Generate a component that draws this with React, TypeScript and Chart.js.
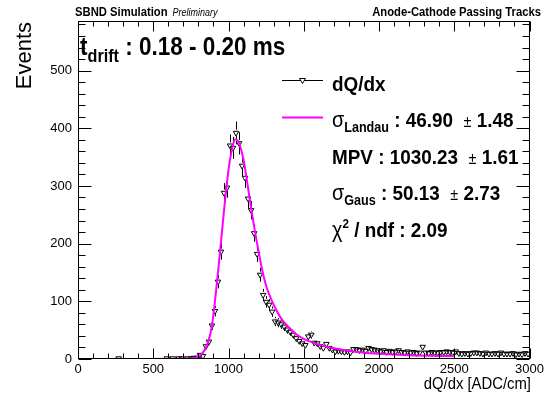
import React, { useEffect, useRef } from "react";
import { Chart, registerables } from "chart.js";

Chart.register(...registerables);

// ---- data -----------------------------------------------------------
const BIN_WIDTH = 20; // ADC/cm per histogram bin, first bin starts at 0
const X_MIN = 0;
const X_MAX = 3000;
const Y_MIN = 0;
const Y_MAX = 586;
const xTickValues = [0, 500, 1000, 1500, 2000, 2500, 3000];
const yTickValues = [0, 100, 200, 300, 400, 500];

// histogram counts per bin (null = empty bin, not drawn)
const counts: (number | null)[] = [
  // 0 - 260
  null, null, null, null, null, null, null, null, null, null, null, null, null,
  // 260 - 580
  1, null, null, null, null, null, null, null, null, null, null, null, null, null, null, null,
  // 580 - 800
  1, null, 1, null, 1, 1, null, 1, 1, 2, 2,
  // 800 - 1000
  7, 5, 22, 30, 58, 83, 134, 186, 288, 297,
  // 1000 - 1200
  370, 366, 392, 374, 335, 314, 278, 258, 218, 182,
  // 1200 - 1400
  146, 111, 99, 94, 82, 65, 63, 60, 56, 51,
  // 1400 - 1600
  47, 42, 36, 31, 27, 24, 39, 42, 28, 27,
  // 1600 - 1800
  22, 19, 26, 19, 16, 13, 14, 13, 12, 13,
  // 1800 - 2000
  11, 17, 17, 15, 16, 14, 19, 17, 16, 15,
  // 2000 - 2200
  13, 15, 12, 14, 12, 13, 15, 12, 11, 13,
  // 2200 - 2400
  11, 12, 10, 11, 21, 11, 10, 12, 11, 11,
  // 2400 - 2600
  12, 12, 13, 12, 11, 13, 10, 9, 10, 9,
  // 2600 - 2800
  10, 11, 11, 10, 9, 11, 9, 9, 10, 9,
  // 2800 - 3000
  11, 9, 9, 9, 10, 8, 9, 8, 10, 9,
];

// Landau (x) Gauss fit curve
const fitX = [400, 700, 780, 800, 830, 850, 870, 890, 910, 930, 950, 975, 1000, 1025, 1045, 1070, 1100, 1125, 1150, 1175, 1200, 1225, 1250, 1300, 1350, 1400, 1450, 1500, 1600, 1700, 1800, 1900, 2000, 2200, 2500];
const fitY = [0, 0.3, 2, 4, 11, 20, 34, 58, 100, 150, 203, 270, 328, 366, 381, 374, 345, 305, 262, 222, 186, 153, 127, 94, 70, 55, 43, 35, 25, 18.5, 14, 11, 9, 6.5, 5];

// texts
const headerLeft = "SBND Simulation";
const headerLeftSmall = "Preliminary";
const headerRight = "Anode-Cathode Passing Tracks";
const xTitle = "dQ/dx [ADC/cm]";
const yTitle = "Events";
const legendData = "dQ/dx";
const sigmaLandau = ["46.90", "1.48"];
const mpv = ["1030.23", "1.61"];
const sigmaGaus = ["50.13", "2.73"];
const chi2ndf = "2.09";

// ---- drawing helpers -------------------------------------------------
const SANS = "'Liberation Sans', Arial, Helvetica, sans-serif";
const SX = 0.9;

type Part = { t: string; font: string; dy?: number };

function runWidth(ctx: CanvasRenderingContext2D, parts: Part[], sx: number) {
  let w = 0;
  for (const p of parts) {
    ctx.font = p.font;
    w += ctx.measureText(p.t).width * sx;
  }
  return w;
}

function drawRun(ctx: CanvasRenderingContext2D, parts: Part[], x: number, y: number, sx = SX, align: "left" | "right" = "left") {
  let cx = align === "right" ? x - runWidth(ctx, parts, sx) : x;
  ctx.textAlign = "left";
  ctx.textBaseline = "alphabetic";
  for (const p of parts) {
    ctx.font = p.font;
    ctx.save();
    ctx.translate(cx, y + (p.dy || 0));
    ctx.scale(sx, 1);
    ctx.fillText(p.t, 0, 0);
    ctx.restore();
    cx += ctx.measureText(p.t).width * sx;
  }
}

const MARKER_R = 3.2;

const rootPlugin = {
  id: "rootStyle",
  beforeDatasetsDraw(chart: any) {
    const { ctx, scales } = chart;
    const xs = scales.x;
    const ys = scales.y;
    ctx.save();
    ctx.strokeStyle = "#000";
    ctx.lineWidth = 1;
    counts.forEach((c, i) => {
      if (c === null) return;
      const center = X_MIN + (i + 0.5) * BIN_WIDTH;
      const err = Math.sqrt(c);
      const px = Math.round(xs.getPixelForValue(center)) + 0.5;
      const py = ys.getPixelForValue(c);
      const top = ys.getPixelForValue(Math.min(c + err, Y_MAX));
      const bot = ys.getPixelForValue(Math.max(c - err, 0));
      ctx.beginPath();
      if (top < py - MARKER_R) {
        ctx.moveTo(px, top);
        ctx.lineTo(px, py - MARKER_R);
      }
      if (bot > py + MARKER_R) {
        ctx.moveTo(px, py + MARKER_R);
        ctx.lineTo(px, bot);
      }
      ctx.stroke();
    });
    ctx.restore();
  },
  afterDraw(chart: any) {
    const { ctx, chartArea: a, scales } = chart;
    const xs = scales.x;
    const ys = scales.y;
    ctx.save();
    ctx.strokeStyle = "#000";
    ctx.fillStyle = "#000";
    ctx.lineWidth = 1;
    // frame
    const L = Math.round(a.left) + 0.5;
    const R = Math.round(a.right) - 0.5;
    const T = Math.round(a.top) + 0.5;
    const B = Math.round(a.bottom) - 0.5;
    ctx.strokeRect(L, T, R - L, B - T);
    // x ticks (inside, bottom and top)
    ctx.beginPath();
    for (let v = X_MIN; v <= X_MAX; v += 100) {
      const px = Math.round(xs.getPixelForValue(v)) + 0.5;
      const len = v % 500 === 0 ? 10 : 5;
      ctx.moveTo(px, B);
      ctx.lineTo(px, B - len);
      ctx.moveTo(px, T);
      ctx.lineTo(px, T + len);
    }
    // y ticks (inside, left and right)
    for (let v = Y_MIN; v <= Y_MAX; v += 20) {
      const py = Math.round(ys.getPixelForValue(v)) + 0.5;
      const len = v % 100 === 0 ? 13 : 7;
      ctx.moveTo(L, py);
      ctx.lineTo(L + len, py);
      ctx.moveTo(R, py);
      ctx.lineTo(R - len, py);
    }
    ctx.stroke();

    // header
    drawRun(ctx, [
      { t: headerLeft, font: `bold 12.5px ${SANS}` },
      { t: "  " + headerLeftSmall, font: `italic 10px ${SANS}` },
    ], 75, 16);
    drawRun(ctx, [{ t: headerRight, font: `bold 12.5px ${SANS}` }], 541, 16, SX, "right");

    // t_drift title
    drawRun(ctx, [
      { t: "t", font: `bold 25px ${SANS}` },
      { t: "drift", font: `bold 18px ${SANS}`, dy: 7 },
      { t: " : 0.18 - 0.20 ms", font: `bold 25px ${SANS}` },
    ], 80, 55);

    // legend
    const lx0 = 282, lx1 = 323, tx = 332;
    ctx.strokeStyle = "#000";
    ctx.lineWidth = 1;
    ctx.beginPath();
    ctx.moveTo(lx0, 80.5);
    ctx.lineTo(lx1, 80.5);
    ctx.stroke();
    ctx.fillStyle = "#fff";
    ctx.beginPath();
    ctx.moveTo(302.5 - 3, 78.5);
    ctx.lineTo(302.5 + 3, 78.5);
    ctx.lineTo(302.5, 83.5);
    ctx.closePath();
    ctx.fill();
    ctx.stroke();
    ctx.fillStyle = "#000";
    ctx.strokeStyle = "#ff00ff";
    ctx.lineWidth = 2;
    ctx.beginPath();
    ctx.moveTo(lx0, 117.5);
    ctx.lineTo(lx1, 117.5);
    ctx.stroke();

    const B21 = `bold 21px ${SANS}`;
    const PM = `16px ${SANS}`;
    const GR = `22px ${SANS}`;
    drawRun(ctx, [{ t: legendData, font: B21 }], tx, 90.5);
    drawRun(ctx, [
      { t: "σ", font: GR },
      { t: "Landau", font: `bold 14px ${SANS}`, dy: 5 },
      { t: " : " + sigmaLandau[0] + "  ", font: B21 },
      { t: "±", font: PM },
      { t: " " + sigmaLandau[1], font: B21 },
    ], tx, 127);
    drawRun(ctx, [
      { t: "MPV : " + mpv[0] + "  ", font: B21 },
      { t: "±", font: PM },
      { t: " " + mpv[1], font: B21 },
    ], tx, 163.5);
    drawRun(ctx, [
      { t: "σ", font: GR },
      { t: "Gaus", font: `bold 14px ${SANS}`, dy: 5 },
      { t: " : " + sigmaGaus[0] + "  ", font: B21 },
      { t: "±", font: PM },
      { t: " " + sigmaGaus[1], font: B21 },
    ], tx, 200);
    drawRun(ctx, [
      { t: "χ", font: GR },
      { t: "2", font: `bold 13px ${SANS}`, dy: -9 },
      { t: " / ndf : " + chi2ndf, font: B21 },
    ], tx, 236.5);

    // axis titles
    drawRun(ctx, [{ t: xTitle, font: `16.5px ${SANS}` }], 531, 389, SX, "right");
    ctx.save();
    ctx.translate(31, 22);
    ctx.rotate(-Math.PI / 2);
    ctx.font = `22px ${SANS}`;
    ctx.textAlign = "right";
    ctx.textBaseline = "alphabetic";
    ctx.fillText(yTitle, 0, 0);
    ctx.restore();

    ctx.restore();
  },
};

export default function App() {
  const canvasRef = useRef<HTMLCanvasElement | null>(null);

  useEffect(() => {
    if (!canvasRef.current) return;
    const points = counts
      .map((c, i) => (c === null ? null : { x: X_MIN + (i + 0.5) * BIN_WIDTH, y: c }))
      .filter((p) => p !== null) as { x: number; y: number }[];
    const fit = fitX.map((x, i) => ({ x, y: fitY[i] }));

    const chart = new Chart(canvasRef.current, {
      type: "scatter",
      data: {
        datasets: [
          {
            type: "line",
            label: "fit",
            data: fit,
            borderColor: "#ff00ff",
            borderWidth: 2,
            pointRadius: 0,
            fill: false,
            cubicInterpolationMode: "monotone",
            order: 0,
          } as any,
          {
            label: legendData,
            data: points,
            showLine: false,
            pointStyle: "triangle",
            rotation: 180,
            radius: MARKER_R,
            pointRadius: MARKER_R,
            borderColor: "#000",
            borderWidth: 1,
            backgroundColor: "rgba(0,0,0,0)",
            order: 1,
          } as any,
        ],
      },
      options: {
        animation: false,
        responsive: true,
        maintainAspectRatio: false,
        layout: { padding: { top: 21, right: 16, left: 0, bottom: 0 } },
        plugins: { legend: { display: false }, tooltip: { enabled: false }, title: { display: false } },
        events: [],
        scales: {
          x: {
            type: "linear",
            min: X_MIN,
            max: X_MAX,
            grid: { display: false, drawTicks: false },
            border: { display: false },
            afterFit: (s: any) => { s.height = 41; },
            afterBuildTicks: (s: any) => { s.ticks = xTickValues.map((v) => ({ value: v })); },
            ticks: {
              padding: 3,
              color: "#000",
              font: { family: SANS, size: 13 },
              maxRotation: 0,
              autoSkip: false,
              callback: (v: any) => String(v),
            },
          },
          y: {
            type: "linear",
            min: Y_MIN,
            max: Y_MAX,
            grid: { display: false, drawTicks: false },
            border: { display: false },
            afterFit: (s: any) => { s.width = 78; },
            afterBuildTicks: (s: any) => { s.ticks = yTickValues.map((v) => ({ value: v })); },
            ticks: {
              padding: 6,
              color: "#000",
              font: { family: SANS, size: 13 },
              autoSkip: false,
              callback: (v: any) => String(v),
            },
          },
        },
      },
      plugins: [rootPlugin],
    });
    return () => chart.destroy();
  }, []);

  return (
    <div style={{ position: "fixed", left: 0, top: 0, width: 547, height: 400, background: "#fff" }}>
      <canvas ref={canvasRef} />
    </div>
  );
}
